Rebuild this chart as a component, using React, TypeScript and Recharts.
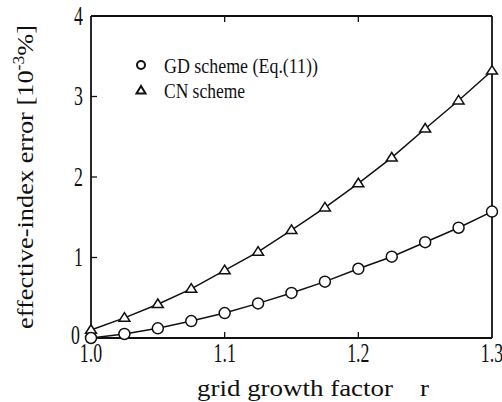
import { LineChart, Line, XAxis, YAxis, Customized } from "recharts";

// grid growth factor r
const growth = [1.0, 1.025, 1.05, 1.075, 1.1, 1.125, 1.15, 1.175, 1.2, 1.225, 1.25, 1.275, 1.3];
// effective-index error [10^-3 %]
const gdError = [0.0, 0.05, 0.12, 0.21, 0.31, 0.43, 0.56, 0.7, 0.86, 1.01, 1.19, 1.37, 1.57];
const cnError = [0.1, 0.25, 0.42, 0.61, 0.84, 1.07, 1.34, 1.62, 1.92, 2.24, 2.6, 2.95, 3.32];

const xTicks = [1.0, 1.1, 1.2, 1.3];
const yTicks = [0, 1, 2, 3, 4];

const data = growth.map((r, i) => ({ r, gd: gdError[i], cn: cnError[i] }));

const INK = "#111";
const SERIF = "'Liberation Serif', 'DejaVu Serif', serif";
const TICK_LEN = 6;

const BottomTick = (props: any) => {
  const { x, y, payload } = props;
  const inner = payload.value > 1.0 && payload.value < 1.3;
  return (
    <g>
      {inner && <line x1={x} x2={x} y1={y} y2={y - TICK_LEN} stroke={INK} strokeWidth={1.3} />}
      <text
        transform={`translate(${x},${y + 24}) scale(0.66,1)`}
        textAnchor="middle"
        fontFamily={SERIF}
        fontSize={27}
        fill={INK}
      >
        {payload.value.toFixed(1)}
      </text>
    </g>
  );
};

const TopTick = (props: any) => {
  const { x, y, payload } = props;
  if (payload.value <= 1.0 || payload.value >= 1.3) return <g />;
  return <line x1={x} x2={x} y1={y} y2={y + TICK_LEN} stroke={INK} strokeWidth={1.3} />;
};

const LeftTick = (props: any) => {
  const { x, y, payload } = props;
  const inner = payload.value > 0 && payload.value < 4;
  const isZero = payload.value === 0;
  return (
    <g>
      {inner && <line x1={x} x2={x + TICK_LEN} y1={y} y2={y} stroke={INK} strokeWidth={1.3} />}
      <text
        transform={`translate(${x - (isZero ? 11 : 8)},${y + (isZero ? 6 : 8.9)}) scale(0.66,1)`}
        textAnchor="end"
        fontFamily={SERIF}
        fontSize={27}
        fill={INK}
      >
        {payload.value}
      </text>
    </g>
  );
};

const RightTick = (props: any) => {
  const { x, y, payload } = props;
  if (payload.value <= 0 || payload.value >= 4) return <g />;
  return <line x1={x} x2={x - TICK_LEN} y1={y} y2={y} stroke={INK} strokeWidth={1.3} />;
};

const TriangleDot = (props: any) => {
  const { cx, cy, index } = props;
  if (cx == null || cy == null) return <g key={`t-${index}`} />;
  const s = 5.2;
  const pts = `${cx},${cy - s} ${cx - s * 1.05},${cy + s * 0.65} ${cx + s * 1.05},${cy + s * 0.65}`;
  return <polygon key={`t-${index}`} points={pts} fill="#fff" stroke={INK} strokeWidth={1.5} />;
};

const Annotations = () => (
  <g fill={INK} fontFamily={SERIF}>
    {/* legend */}
    <circle cx={141} cy={65} r={4} fill="#fff" stroke={INK} strokeWidth={2} />
    <text x={164} y={73} fontSize={21} textLength={154} lengthAdjust="spacingAndGlyphs">
      GD scheme (Eq.(11))
    </text>
    <polygon points="141,86 136.5,93.5 145.5,93.5" fill="#fff" stroke={INK} strokeWidth={2} />
    <text x={164} y={98} fontSize={21} textLength={81} lengthAdjust="spacingAndGlyphs">
      CN scheme
    </text>
    {/* x axis title */}
    <text x={197} y={396} fontSize={24} textLength={196} lengthAdjust="spacingAndGlyphs">
      grid growth factor
    </text>
    <text x={420} y={396} fontSize={24} textLength={9} lengthAdjust="spacingAndGlyphs">
      r
    </text>
    {/* y axis title */}
    <text
      transform="translate(33,329) rotate(-90)"
      fontSize={24}
      textLength={304}
      lengthAdjust="spacingAndGlyphs"
    >
      effective-index error [10
      <tspan fontSize={16} dy={-9}>-3</tspan>
      <tspan dy={9}>%]</tspan>
    </text>
  </g>
);

export default function App() {
  return (
    <div style={{ position: "absolute", left: 0, top: 0, background: "#fff" }}>
      <LineChart width={502} height={402} data={data} margin={{ top: 0, right: 0, bottom: 0, left: 0 }}>
        <XAxis
          xAxisId="bottom"
          dataKey="r"
          type="number"
          domain={[1.0, 1.3]}
          ticks={xTicks}
          height={64}
          tickSize={0}
          tickMargin={0}
          tickLine={false}
          axisLine={{ stroke: INK, strokeWidth: 1.8 }}
          tick={BottomTick}
          interval={0}
        />
        <XAxis
          xAxisId="top"
          orientation="top"
          dataKey="r"
          type="number"
          domain={[1.0, 1.3]}
          ticks={xTicks}
          height={16}
          tickSize={0}
          tickMargin={0}
          tickLine={false}
          axisLine={{ stroke: INK, strokeWidth: 1.8 }}
          tick={TopTick}
          interval={0}
        />
        <YAxis
          yAxisId="left"
          type="number"
          domain={[0, 4]}
          ticks={yTicks}
          width={91}
          tickSize={0}
          tickMargin={0}
          tickLine={false}
          axisLine={{ stroke: INK, strokeWidth: 1.8 }}
          tick={LeftTick}
          interval={0}
        />
        <YAxis
          yAxisId="right"
          orientation="right"
          type="number"
          domain={[0, 4]}
          ticks={yTicks}
          width={10}
          tickSize={0}
          tickMargin={0}
          tickLine={false}
          axisLine={{ stroke: INK, strokeWidth: 1.8 }}
          tick={RightTick}
          interval={0}
        />
        <Line
          xAxisId="bottom"
          yAxisId="left"
          type="linear"
          dataKey="cn"
          stroke={INK}
          strokeWidth={1.5}
          dot={TriangleDot}
          isAnimationActive={false}
        />
        <Line
          xAxisId="bottom"
          yAxisId="left"
          type="linear"
          dataKey="gd"
          stroke={INK}
          strokeWidth={1.5}
          dot={{ r: 5.5, fill: "#fff", stroke: INK, strokeWidth: 1.5 }}
          isAnimationActive={false}
        />
        <Customized component={Annotations} />
      </LineChart>
    </div>
  );
}
